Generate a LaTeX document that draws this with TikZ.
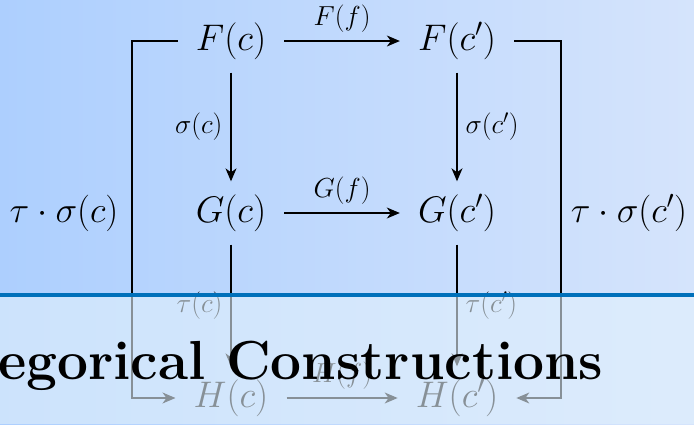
\RequirePackage{fix-cm}
\documentclass[tikz,border=0pt]{standalone}
\definecolor{bgleft}{RGB}{173,207,254}
\definecolor{bgright}{RGB}{213,228,252}
\definecolor{veil}{RGB}{226,241,252}
\definecolor{barblue}{RGB}{0,112,186}
\usetikzlibrary{arrows.meta, positioning}
\tikzset{
	obj/.style={inner xsep=18pt, inner ysep=13pt, font=\fontsize{37}{44}\selectfont},
	lbl/.style={inner sep=8pt, font=\fontsize{27.5}{33}\selectfont},
	side/.style={inner sep=0pt, font=\fontsize{36.5}{44}\selectfont},
	arrow/.style={-{Stealth[length=13pt,width=11pt,inset=4pt]}, line width=1.1pt},
	heading/.style={inner sep=0pt, anchor=base west, font=\fontsize{55}{60}\selectfont\bfseries},
}

\begin{document}
\begin{tikzpicture}[x=1pt, y=1pt, on grid]
		\useasboundingbox (0,0) rectangle (694,-424);
		\shade[left color=bgleft, right color=bgright] (0,0) rectangle (694,-424);
		% objects
		\node[obj] (Fc) at (231,-41) {$F(c)$};
		\node[obj, right=226pt of Fc] (Fcp) {$F(c')$};
		\node[obj, below=172pt of Fc] (Gc) {$G(c)$};
		\node[obj, right=226pt of Gc] (Gcp) {$G(c')$};
		\node[obj, below=185pt of Gc] (Hc) {$H(c)$};
		\node[obj, right=226pt of Hc] (Hcp) {$H(c')$};
		\coordinate[left=99pt of Gc] (lft);
		\coordinate[right=104pt of Gcp] (rgt);
		\node[side, left=167pt of Gc] (tsc) {$\tau\cdot\sigma(c)$};
		\node[side, right=172pt of Gcp] (tscp) {$\tau\cdot\sigma(c')$};
		% morphisms
		\draw[arrow] (Fc) -- node[lbl, above] (Ff) {$F(f)$} (Fcp);
		\draw[arrow] (Gc) -- node[lbl, above] (Gf) {$G(f)$} (Gcp);
		\draw[arrow] (Hc) -- node[lbl, above] (Hf) {$H(f)$} (Hcp);
		\draw[arrow] (Fc) -- node[lbl, left] (sc) {$\sigma(c)$} (Gc);
		\draw[arrow] (Fcp) -- node[lbl, right] (scp) {$\sigma(c')$} (Gcp);
		\draw[arrow] (Gc) -- node[lbl, left] (tc) {$\tau(c)$} (Hc);
		\draw[arrow] (Gcp) -- node[lbl, right] (tcp) {$\tau(c')$} (Hcp);
		\draw[arrow] (Fc) -| (lft) |- (Hc);
		\draw[arrow] (Fcp) -| (rgt) |- (Hcp);
		% title band
		\fill[veil, fill opacity=0.6] (0,-295) rectangle (694,-424);
		\fill[barblue] (0,-293) rectangle (694,-297);
		\node[heading] (title) at (-2,-379) {egorical Constructions};
	\end{tikzpicture}
\end{document}
